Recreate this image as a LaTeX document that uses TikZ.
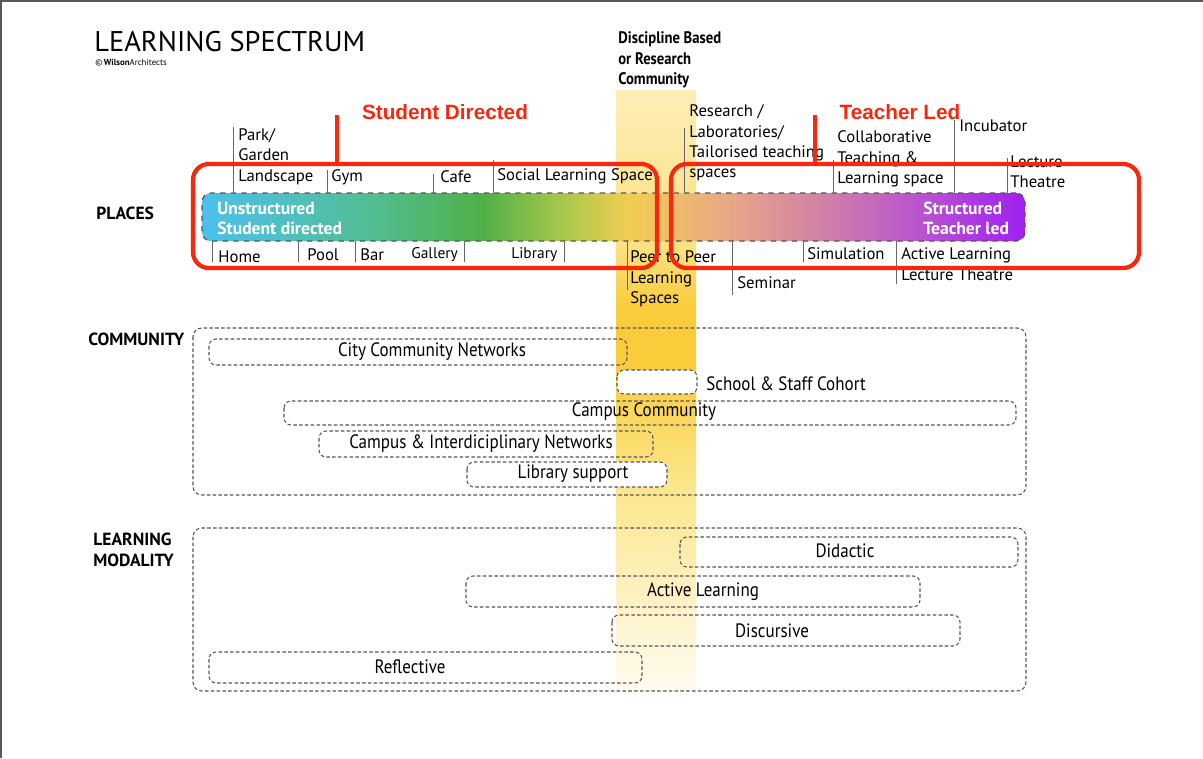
\documentclass[tikz,border=0pt]{standalone}
\usepackage{fontspec}
\setmainfont{PT Sans}
\newfontfamily\narrowfont[FakeStretch=0.88]{PT Sans}
\newfontfamily\arialfont{Liberation Sans}

\definecolor{redline}{RGB}{250,38,14}
\definecolor{dashgray}{RGB}{85,85,85}
% spectrum colours, left to right
\definecolor{sp1}{RGB}{76,192,236}
\definecolor{sp2}{RGB}{82,190,150}
\definecolor{sp3}{RGB}{80,176,72}
\definecolor{sp4}{RGB}{170,200,76}
\definecolor{sp5}{RGB}{242,205,82}
\definecolor{sp6}{RGB}{234,170,132}
\definecolor{sp7}{RGB}{210,130,166}
\definecolor{sp8}{RGB}{188,88,204}
\definecolor{sp9}{RGB}{160,32,242}
% discipline band, bottom to top
\definecolor{bd0}{RGB}{255,251,240}
\definecolor{bd1}{RGB}{252,230,140}
\definecolor{bd2}{RGB}{249,204,60}
\definecolor{bd3}{RGB}{250,225,130}
\definecolor{bd4}{RGB}{253,238,182}

\pgfdeclarehorizontalshading{spectrum}{100bp}{color(0bp)=(sp1); color(25bp)=(sp1);
  color(35bp)=(sp2); color(42bp)=(sp3); color(47bp)=(sp4); color(51bp)=(sp5);
  color(56.5bp)=(sp6); color(62.5bp)=(sp7); color(68bp)=(sp8); color(75bp)=(sp9); color(100bp)=(sp9)}
\pgfdeclareverticalshading{band}{100bp}{color(0bp)=(bd0); color(25bp)=(bd0);
  color(42bp)=(bd1); color(52bp)=(bd2); color(57bp)=(bd2); color(62bp)=(bd3);
  color(75bp)=(bd4); color(100bp)=(bd4)}

\tikzset{
  lbl/.style={anchor=west, inner sep=0pt, align=left, font=\fontsize{9.5}{11.6}\selectfont},
  small/.style={lbl, font=\fontsize{8.8}{9}\selectfont},
  section/.style={anchor=west, inner sep=0pt, align=left, font=\bfseries\fontsize{10}{12}\selectfont},
  tick/.style={draw=gray!80!black, line width=0.5pt},
  bar/.style={draw=dashgray, dashed, line width=0.7pt, rounded corners=5pt, shading=spectrum,
    minimum width=16.46cm, minimum height=0.96cm, inner sep=0pt},
  bartxt/.style={anchor=west, inner sep=0pt, align=left, text=white, font=\bfseries\fontsize{10}{11.4}\selectfont},
  dbox/.style={draw=dashgray, line width=0.6pt, dash pattern=on 2pt off 1.3pt, rounded corners=4pt},
  ctxt/.style={inner sep=0pt, font=\narrowfont\fontsize{11}{12}\selectfont},
  redbox/.style={draw=redline, line width=2.4pt, rounded corners=9pt},
  redmark/.style={draw=redline, line width=1.8pt},
  redtitle/.style={inner sep=0pt, text=redline, font=\arialfont\bfseries\fontsize{11.8}{13}\selectfont}
}

\begin{document}
\begin{tikzpicture}[x=0.02cm,y=-0.02cm]
\useasboundingbox (0,0) rectangle (1203,758);
\draw[gray!70!black, line width=1.2pt] (0.6,758) -- (0.6,0.6) -- (1203,0.6);

% discipline based band
\shade[shading=band] (616,90) rectangle (696,690);

\node[anchor=west, inner sep=0pt, font=\fontsize{16.2}{18}\selectfont] (title) at (94,42) {LEARNING SPECTRUM};
\node[anchor=west, inner sep=0pt, font=\fontsize{5}{6}\selectfont] (copy) at (95,63) {\textcopyright\,\textbf{Wilson}Architects};
\node[anchor=west, inner sep=0pt, align=left, font=\narrowfont\bfseries\fontsize{9.5}{11.6}\selectfont] (disc) at (618,60) {Discipline Based\\or Research\\Community};

\node[section] (places) at (96,213) {PLACES};
\node[section] (comm) at (88,339) {COMMUNITY};
\node[section] (modal) at (93,549.5) {LEARNING\\MODALITY};

% places spectrum
\node[bar] (bar) at (613.5,217) {};
\node[bartxt] (unstr) at (217,218) {Unstructured\\Student directed};
\node[bartxt] (str) at (923,218) {Structured\\Teacher led};

% places above the bar
\node[lbl] (park) at (238,156.5) {Park/\\Garden\\Landscape};
\node[lbl] (gym) at (331,177) {Gym};
\node[lbl] (cafe) at (440,177) {Cafe};
\node[lbl] (social) at (497,176) {Social Learning Space};
\node[lbl] (research) at (689,143) {Research /\\Laboratories/\\Tailorised teaching\\spaces};
\node[lbl] (collab) at (837,159) {Collaborative\\Teaching \&\\Learning space};
\node[lbl] (incub) at (959,126) {Incubator};
\node[lbl] (lecture) at (1010,172) {Lecture\\Theatre};
\foreach \x/\y in {233/127,327/170,433/174,493/160,684/128,833/160,954/120,1007/158}
	\draw[tick] (\x,\y) -- (\x,193);

% places below the bar
\node[lbl] (home) at (218,257) {Home};
\node[lbl] (pool) at (307,255) {Pool};
\node[lbl] (barpl) at (360,255) {Bar};
\node[small] (gallery) at (411,255) {Gallery};
\node[small] (library) at (511,255) {Library};
\node[lbl] (peer) at (630,279) {Peer to Peer\\Learning\\Spaces};
\node[lbl] (seminar) at (737,283) {Seminar};
\node[lbl] (simul) at (807,254) {Simulation};
\node[lbl] (active) at (901,264) {Active Learning\\Lecture Theatre};
\foreach \x/\y in {212/262,298/262,355/262,464/262,564/262,627/290,732/295,803/262,896/284}
	\draw[tick] (\x,241) -- (\x,\y);

% community
\draw[dbox, rounded corners=5pt] (193,328) rectangle (1026,495);
\draw[dbox] (209,339) rectangle (627,365);
\node[ctxt] (city) at (432,352) {City Community Networks};
\draw[dbox, fill=white] (617,370) rectangle (697,394);
\node[ctxt, anchor=west] (cohort) at (706,384) {School \& Staff Cohort};
\draw[dbox] (284,401) rectangle (1016,425);
\node[ctxt] (campus) at (644,412) {Campus Community};
\draw[dbox] (319,431) rectangle (653,457);
\node[ctxt] (inter) at (481,444) {Campus \& Interdiciplinary Networks};
\draw[dbox, fill=white] (467,462) rectangle (667,487);
\node[ctxt] (libsup) at (573,474) {Library support};

% learning modality
\draw[dbox, rounded corners=5pt] (193,528) rectangle (1026,691);
\draw[dbox] (680,537) rectangle (1018,567);
\node[ctxt] (didactic) at (845,551) {Didactic};
\draw[dbox] (466,576) rectangle (920,607);
\node[ctxt] (actlearn) at (703,592) {Active Learning};
\draw[dbox] (612,615) rectangle (960,646);
\node[ctxt] (discurs) at (772,631) {Discursive};
\draw[dbox] (209,652) rectangle (642,683);
\node[ctxt] (reflect) at (410,667) {Reflective};

% student directed / teacher led
\draw[redbox] (193,164) rectangle (657,268);
\draw[redbox] (671,164) rectangle (1139,268);
\draw[redmark] (337,115) -- (337,164);
\draw[redmark] (815,115) -- (815,164);
\node[redtitle] (stud) at (445,112) {Student Directed};
\node[redtitle] (teach) at (900,112) {Teacher Led};
%\node[redtitle] (both) at (650,130) {Both};

\end{tikzpicture}
\end{document}
